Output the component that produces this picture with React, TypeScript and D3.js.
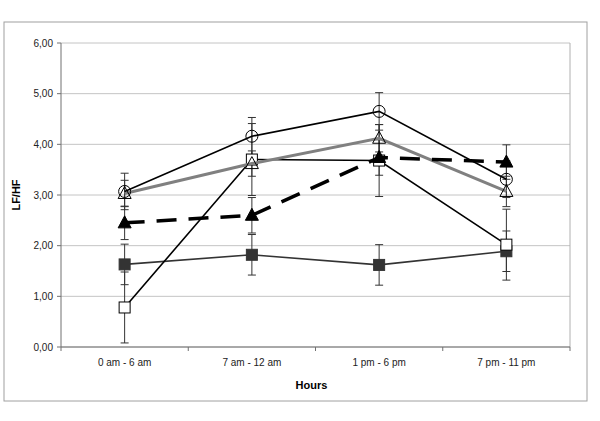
import * as d3 from 'd3';

const categories = ['0 am - 6 am', '7 am - 12 am', '1 pm - 6 pm', '7 pm - 11 pm'];
const yTicks = [0, 1, 2, 3, 4, 5, 6];

// series values and symmetric error bars
const circleVals = [3.07, 4.16, 4.65, 3.31];
const circleErr = [0.36, 0.37, 0.37, 0.36];
const openTriVals = [3.03, 3.62, 4.12, 3.07];
const openTriErr = [0.26, 0.25, 0.27, 0.3];
const filledTriVals = [2.45, 2.6, 3.74, 3.65];
const filledTriErr = [0.33, 0.35, 0.35, 0.34];
const openSqVals = [0.78, 3.7, 3.68, 2.02];
const openSqErr = [0.7, 0.71, 0.71, 0.7];
const filledSqVals = [1.63, 1.82, 1.62, 1.89];
const filledSqErr = [0.4, 0.4, 0.4, 0.4];

const W = 600;
const H = 421;
const m = { left: 61, right: 570, top: 43, bottom: 347 };

const x = d3.scaleBand().domain(categories).range([m.left, m.right]);
const y = d3.scaleLinear().domain([0, 6]).range([m.bottom, m.top]);
const cx = (c: string) => (x(c) as number) + x.bandwidth() / 2;

type Series = {
  vals: number[];
  err: number[];
  line: string;
  lw: number;
  dash?: string;
  marker: 'circle' | 'tri' | 'sq';
  fill: string;
};

const series: Series[] = [
  { vals: filledSqVals, err: filledSqErr, line: '#333', lw: 1.6, marker: 'sq', fill: '#333' },
  { vals: openSqVals, err: openSqErr, line: '#000', lw: 1.6, marker: 'sq', fill: '#fff' },
  { vals: openTriVals, err: openTriErr, line: '#808080', lw: 3, marker: 'tri', fill: 'none' },
  { vals: circleVals, err: circleErr, line: '#000', lw: 1.6, marker: 'circle', fill: 'none' },
  { vals: filledTriVals, err: filledTriErr, line: '#000', lw: 3.5, dash: '20,12', marker: 'tri', fill: '#000' },
];

const lineGen = d3
  .line<number>()
  .x((_, i) => cx(categories[i]))
  .y((d) => y(d));

function Marker({ s, px, py }: { s: Series; px: number; py: number }) {
  const stroke = s.fill === 'none' || s.fill === '#fff' ? '#000' : s.fill;
  if (s.marker === 'circle')
    return <circle cx={px} cy={py} r={6} fill={s.fill} stroke={stroke} strokeWidth={1} />;
  if (s.marker === 'sq')
    return <rect x={px - 5.5} y={py - 5.5} width={11} height={11} fill={s.fill} stroke={stroke} strokeWidth={1} />;
  const pts = [
    [px, py - 7],
    [px - 6.5, py + 5],
    [px + 6.5, py + 5],
  ];
  return <polygon points={pts.map((p) => p.join(',')).join(' ')} fill={s.fill} stroke={stroke} strokeWidth={1} />;
}

export default function App() {
  const font = 'Liberation Sans, Arial, sans-serif';
  return (
    <svg width={W} height={H} style={{ position: 'absolute', left: 0, top: 0 }} fontFamily={font}>
      <rect x={0} y={0} width={W} height={H} fill="#fff" />
      <rect x={4} y={22} width={583} height={379} fill="none" stroke="#a0a0a0" strokeWidth={1} />
      {/* gridlines */}
      {yTicks.map((t) => (
        <line key={t} x1={m.left} x2={m.right} y1={y(t)} y2={y(t)} stroke="#c4c4c4" strokeWidth={1} />
      ))}
      <line x1={m.right} x2={m.right} y1={m.top} y2={m.bottom} stroke="#b0b0b0" />
      <line x1={m.left} x2={m.left} y1={m.top} y2={m.bottom} stroke="#707070" />
      <line x1={m.left} x2={m.right} y1={m.bottom} y2={m.bottom} stroke="#707070" />
      {/* y ticks */}
      {yTicks.map((t) => (
        <g key={t}>
          <line x1={m.left - 4} x2={m.left} y1={y(t)} y2={y(t)} stroke="#707070" />
          <text x={m.left - 8} y={y(t)} dy="0.35em" textAnchor="end" fontSize={10} fill="#222">
            {d3.format('.2f')(t).replace('.', ',')}
          </text>
        </g>
      ))}
      {/* x ticks */}
      {categories.map((c, i) => (
        <g key={c}>
          <line
            x1={(x(c) as number) + x.bandwidth()}
            x2={(x(c) as number) + x.bandwidth()}
            y1={m.bottom}
            y2={m.bottom + 4}
            stroke="#707070"
          />
          {i === 0 && <line x1={m.left} x2={m.left} y1={m.bottom} y2={m.bottom + 4} stroke="#707070" />}
          <text x={cx(c)} y={m.bottom + 15} dy="0.35em" textAnchor="middle" fontSize={10} fill="#222">
            {c}
          </text>
        </g>
      ))}
      <text x={(m.left + m.right) / 2 - 4} y={385} textAnchor="middle" dy="0.35em" fontSize={11} fontWeight="bold">
        Hours
      </text>
      <text
        transform={`translate(16,${(m.top + m.bottom) / 2}) rotate(-90)`}
        textAnchor="middle"
        dy="0.35em"
        fontSize={11}
        fontWeight="bold"
      >
        LF/HF
      </text>
      {/* error bars */}
      {series.map((s, si) =>
        s.vals.map((v, i) => {
          const px = cx(categories[i]);
          const e = s.err[i];
          return (
            <g key={`e${si}-${i}`} stroke="#333" strokeWidth={1}>
              <line x1={px} x2={px} y1={y(v + e)} y2={y(v - e)} />
              <line x1={px - 4} x2={px + 4} y1={y(v + e)} y2={y(v + e)} />
              <line x1={px - 4} x2={px + 4} y1={y(v - e)} y2={y(v - e)} />
            </g>
          );
        })
      )}
      {/* lines and markers */}
      {series.map((s, si) => (
        <g key={`s${si}`}>
          <path d={lineGen(s.vals) || ''} fill="none" stroke={s.line} strokeWidth={s.lw} strokeDasharray={s.dash} />
          {s.vals.map((v, i) => (
            <Marker key={i} s={s} px={cx(categories[i])} py={y(v)} />
          ))}
        </g>
      ))}
    </svg>
  );
}
